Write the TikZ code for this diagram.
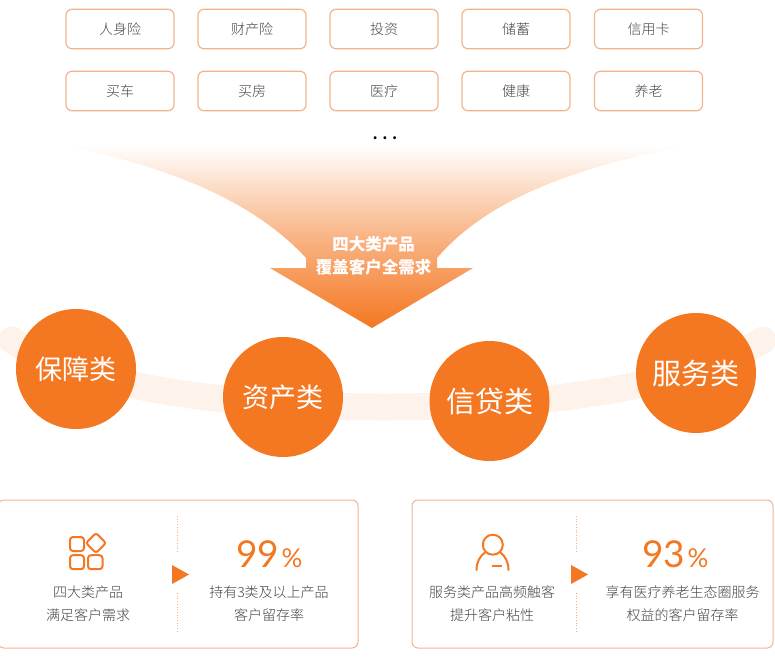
\documentclass[tikz,border=0pt]{standalone}
\usepackage{fontspec}
\setmainfont{Noto Sans CJK SC Light}
\newfontfamily\cjkreg{Noto Sans CJK SC}
\newfontfamily\numfont{Lato}
\definecolor{brand}{HTML}{F47721}
\definecolor{edge}{HTML}{F3B48C}
\definecolor{band}{HTML}{FEF3EB}
\definecolor{ink}{HTML}{454545}
\tikzset{
  x=1pt,y=-1pt,
  itembox/.style={draw=edge,line width=1.2pt,rounded corners=6pt,minimum width=108pt,minimum height=39.5pt,inner sep=0pt,text=ink,font=\fontsize{14}{14}\selectfont},
  catnode/.style={circle,fill=brand,minimum size=120pt,inner sep=0pt,text=white},
  panel/.style={draw=edge,line width=1pt,rounded corners=6pt,fill=white},
  captxt/.style={text=ink,font=\fontsize{14}{14}\selectfont,inner sep=0pt},
  bignum/.style={text=brand,inner sep=0pt,anchor=base,font=\numfont\fontsize{37}{37}\selectfont},
  pct/.style={text=brand,inner sep=0pt,anchor=base,font=\numfont\fontsize{26}{26}\selectfont},
  sepline/.style={draw=edge,line width=0.7pt,dotted},
  icon/.style={draw=brand,line width=2pt,line join=round},
  marktri/.style={fill=brand},
}
\begin{document}
\begin{tikzpicture}
\useasboundingbox (0,0) rectangle (775,658);
% item boxes
\foreach \n/\t/\x/\y in {a/人身险/120/29, b/财产险/252/29, c/投资/384/29, d/储蓄/516/29, e/信用卡/648.5/29,
  f/买车/120/91, g/买房/252/91, h/医疗/384/91, i/健康/516/91, j/养老/648.5/91}
  \node[itembox] (\n) at (\x,\y) {\t};
\node[inner sep=0pt,text=black,font=\fontsize{16}{16}\selectfont\bfseries] (dots) at (385,138.5) {.\hspace{4.5pt}.\hspace{4.5pt}.};
% funnel arrow
\shade[top color=white,bottom color=brand,middle color=brand!55!white]
  (62,145) -- (692,145) .. controls (555,170) and (480,208) .. (437,258) -- (437,268)
  -- (473,268) -- (372,328) -- (270,268) -- (306,268) -- (306,258)
  .. controls (260,208) and (185,170) .. (62,145) -- cycle;
\node[inner sep=0pt,align=center,text=white,font=\cjkreg\bfseries\fontsize{16.5}{23}\selectfont] (funnel) at (373.5,256) {四大类产品\\覆盖客户全需求};
% band
\draw[band,line width=27pt,line cap=round] (12,340) .. controls (90,392) and (250,407) .. (385,407) .. controls (520,407) and (680,392) .. (763,340);
% categories
\node[catnode,font=\cjkreg\fontsize{27}{27}\selectfont] (c1) at (76,369) {保障类};
\node[catnode,font=\cjkreg\fontsize{27}{27}\selectfont] (c2) at (283,397) {\raisebox{2pt}{资产类}};
\node[catnode,font=\cjkreg\fontsize{29}{29}\selectfont] (c3) at (489.5,401) {\raisebox{2pt}{信贷类}};
\node[catnode,font=\cjkreg\fontsize{29}{29}\selectfont] (c4) at (696,373) {服务类};
% panels
\path[panel] (-2,500) rectangle (358,648);
\path[panel] (412,500) rectangle (773,648);
% left panel
\draw[icon,rounded corners=3pt] (70,537) rectangle (84,551);
\draw[icon,rounded corners=3pt] (70,555.2) rectangle (84,569.2);
\draw[icon,rounded corners=3pt] (88,555.2) rectangle (102.5,569.2);
\draw[icon,rounded corners=2.5pt] (96,533) -- (106,543) -- (96,553) -- (86,543) -- cycle;
\node[captxt] (l1) at (88,592) {四大类产品};
\node[captxt] (l2) at (88,615) {满足客户需求};
\draw[sepline] (177.5,516) -- (177.5,553) (177.5,593) -- (177.5,632);
\fill[marktri] (172,565) -- (189,574.5) -- (172,584) -- cycle;
\node[bignum] (n1) at (257.5,567) {99};
\node[pct] (p1) at (292,567) {\%};
\node[captxt] (r1) at (269,592) {持有3类及以上产品};
\node[captxt] (r2) at (269,615) {客户留存率};
% right panel
\draw[icon] (492.8,544.7) circle (10);
\draw[icon,line cap=round] (476.5,570) .. controls (476.5,562) and (480,556) .. (485,552.5);
\draw[icon,line cap=round] (508.5,570) .. controls (508.5,562) and (505,556) .. (500.5,552.5);
\draw[icon] (491.7,566) -- (501.7,566);
\node[captxt] (l3) at (492,592) {服务类产品高频触客};
\node[captxt] (l4) at (492,615) {提升客户粘性};
\draw[sepline] (576.5,516) -- (576.5,553) (576.5,593) -- (576.5,632);
\fill[marktri] (571,565) -- (588,574.5) -- (571,584) -- cycle;
\node[bignum] (n2) at (663.5,567) {93};
\node[pct] (p2) at (698,567) {\%};
\node[captxt] (r3) at (682.5,592) {享有医疗养老生态圈服务};
\node[captxt] (r4) at (682.5,615) {权益的客户留存率};
\end{tikzpicture}
\end{document}
